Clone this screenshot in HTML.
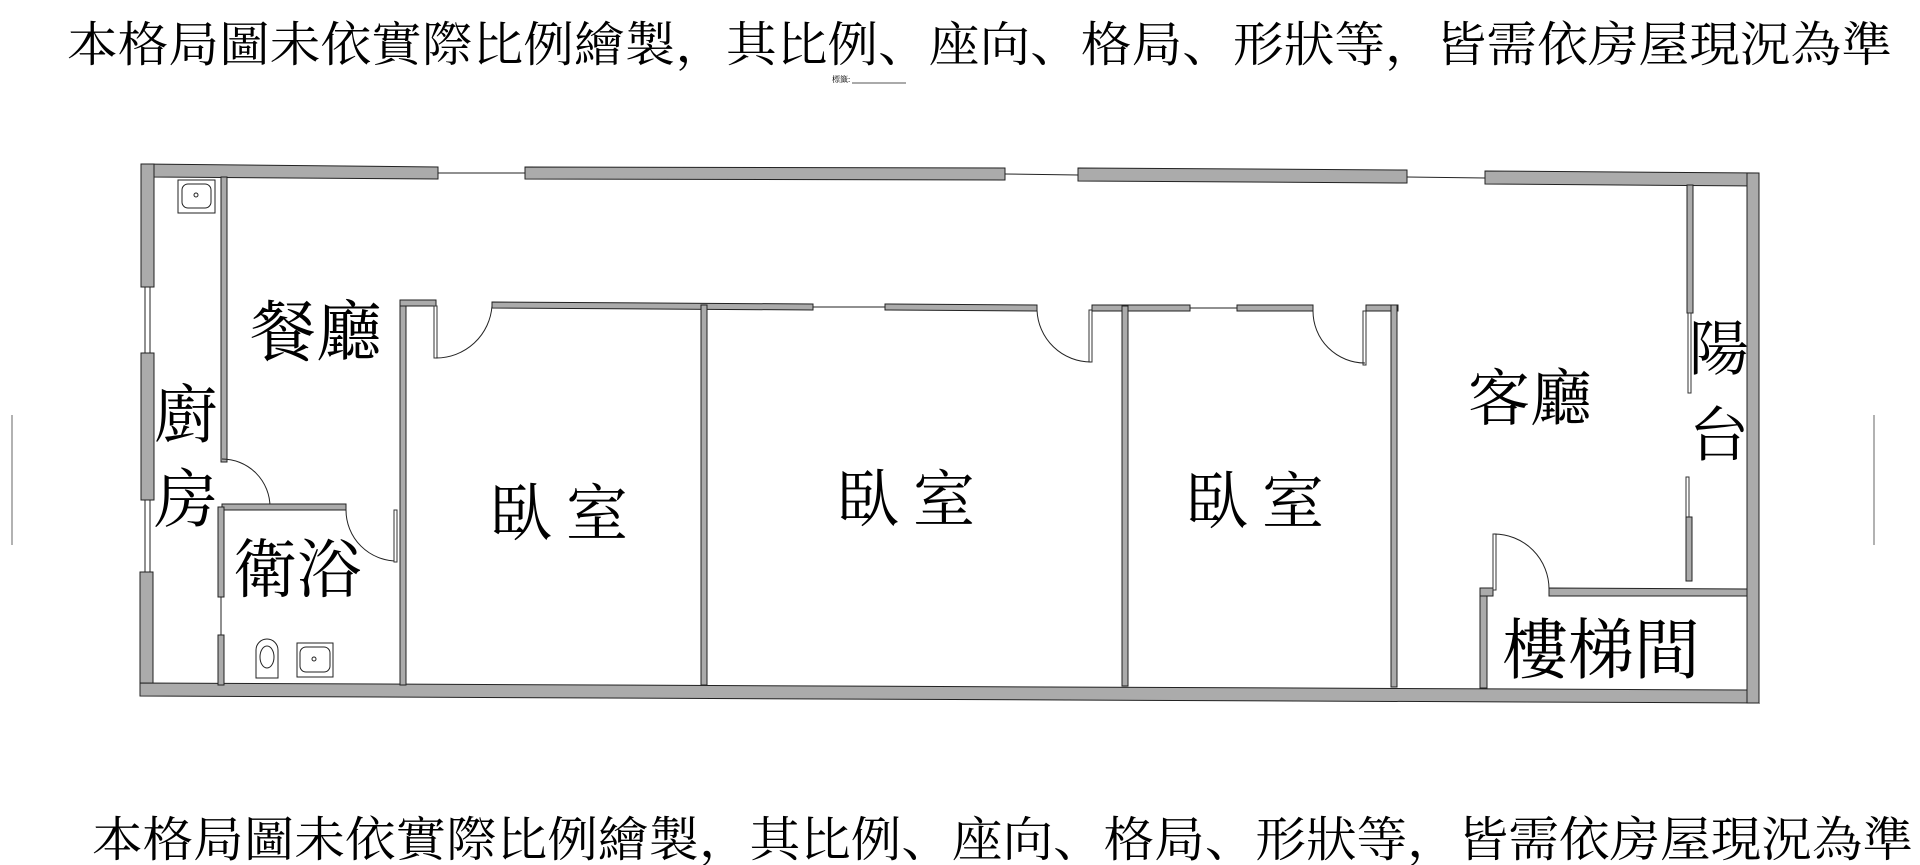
<!DOCTYPE html>
<html><head><meta charset="utf-8"><style>
html,body{margin:0;padding:0;background:#fff;}
svg{display:block;}
text{font-family:"Liberation Serif","Noto Serif CJK SC",serif;fill:#000;}
.w{fill:#ababab;stroke:#222;stroke-width:1;}
.t{fill:#fff;stroke:#333;stroke-width:1;}
.ln{stroke:#222;stroke-width:1;fill:none;}
</style></head><body>
<svg width="1920" height="865" viewBox="0 0 1920 865" xmlns="http://www.w3.org/2000/svg">
<rect width="1920" height="865" fill="#fff"/>
<text x="67" y="61" font-size="48" textLength="1825" lengthAdjust="spacingAndGlyphs">本格局圖未依實際比例繪製，其比例、座向、格局、形狀等，皆需依房屋現況為準</text>
<text x="92" y="856" font-size="48" textLength="1821" lengthAdjust="spacingAndGlyphs">本格局圖未依實際比例繪製，其比例、座向、格局、形狀等，皆需依房屋現況為準</text>
<text x="832" y="82" font-size="8" fill="#666">標籤:</text>
<line x1="852" y1="83" x2="906" y2="83" stroke="#555" stroke-width="1"/>
<line x1="12" y1="415" x2="12" y2="545" stroke="#666" stroke-width="1"/>
<line x1="1874" y1="415" x2="1874" y2="545" stroke="#666" stroke-width="1"/>

<!-- outer top wall segments -->
<polygon class="w" points="142,164 438,167 438,179 154,177"/>
<polygon class="w" points="525,167 1005,168 1005,180 525,179"/>
<polygon class="w" points="1078,168 1407,170 1407,183 1078,181"/>
<polygon class="w" points="1485,171 1759,173 1759,186 1485,184"/>
<line class="ln" x1="438" y1="173" x2="525" y2="173"/>
<line class="ln" x1="1005" y1="174" x2="1078" y2="175"/>
<line class="ln" x1="1407" y1="177" x2="1485" y2="178"/>
<!-- outer left wall -->
<rect class="w" x="141" y="164" width="13" height="123"/>
<rect class="w" x="141" y="353" width="13" height="147"/>
<rect class="w" x="140" y="572" width="13" height="124"/>
<line class="ln" x1="145" y1="287" x2="145" y2="353"/><line class="ln" x1="150" y1="287" x2="150" y2="353"/>
<line class="ln" x1="145" y1="500" x2="145" y2="572"/><line class="ln" x1="150" y1="500" x2="150" y2="572"/>
<!-- bottom wall -->
<polygon class="w" points="140,683 1747,690 1759,703 140,696"/>
<!-- right wall -->
<rect class="w" x="1747" y="173" width="12" height="530"/>

<!-- kitchen/dining wall -->
<rect class="w" x="221" y="177" width="6" height="285"/>
<path class="ln" d="M222,459 A48,48 0 0 1 270,507"/>
<!-- bath top wall -->
<rect class="w" x="222" y="504" width="124" height="6"/>
<path class="ln" d="M346,510 A51,51 0 0 0 397,561"/>
<rect class="t" x="394" y="510" width="3" height="52"/>
<!-- bath left wall -->
<rect class="w" x="218" y="507" width="6" height="90"/>
<rect class="w" x="218" y="635" width="6" height="50"/>
<line class="ln" x1="221" y1="597" x2="221" y2="635"/>
<!-- bedroom block left wall -->
<rect class="w" x="400" y="300" width="6" height="385"/>
<rect class="w" x="400" y="300" width="36" height="6"/>
<!-- door bedroom1 -->
<rect class="t" x="434" y="306" width="3" height="52"/>
<path class="ln" d="M492,306 A56,56 0 0 1 436,358"/>
<!-- inner top wall -->
<polygon class="w" points="492,302 813,304 813,310 492,308"/>
<line class="ln" x1="813" y1="307" x2="885" y2="307"/>
<polygon class="w" points="885,304 1037,305 1037,311 885,310"/>
<rect class="t" x="1089" y="310" width="3" height="52"/>
<path class="ln" d="M1037,310 A54,54 0 0 0 1091,362"/>
<polygon class="w" points="1092,305 1190,305 1190,311 1092,311"/>
<line class="ln" x1="1190" y1="308" x2="1237" y2="308"/>
<polygon class="w" points="1237,305 1313,305 1313,311 1237,311"/>
<rect class="t" x="1363" y="311" width="3" height="54"/>
<path class="ln" d="M1313,311 A52,52 0 0 0 1365,363"/>
<rect class="w" x="1366" y="305" width="32" height="6"/>
<!-- dividers -->
<rect class="w" x="701" y="305" width="6" height="380"/>
<rect class="w" x="1122" y="306" width="6" height="380"/>
<rect class="w" x="1391" y="305" width="6" height="382"/>
<!-- balcony wall -->
<rect class="w" x="1687" y="185" width="6" height="128"/>
<rect class="t" x="1688" y="313" width="3" height="80"/>
<rect class="t" x="1686" y="477" width="3" height="80"/>
<rect class="w" x="1686" y="517" width="6" height="64"/>
<!-- stair room -->
<rect class="w" x="1480" y="588" width="7" height="100"/>
<rect class="w" x="1480" y="588" width="13" height="8"/>
<polygon class="w" points="1549,588 1747,589 1747,596 1549,596"/>
<rect class="t" x="1493" y="534" width="3" height="56"/>
<path class="ln" d="M1494,534 A55,55 0 0 1 1549,589"/>

<!-- fixtures -->
<rect x="178" y="180" width="37" height="33" fill="#fff" stroke="#222"/>
<rect x="182" y="184" width="29" height="24" rx="6" fill="#fff" stroke="#222"/>
<circle cx="196" cy="195" r="2" fill="none" stroke="#222"/>
<rect x="297" y="643" width="36" height="34" fill="#fff" stroke="#222"/>
<rect x="300" y="647" width="30" height="25" rx="6" fill="#fff" stroke="#222"/>
<circle cx="314" cy="659" r="2" fill="none" stroke="#222"/>
<path d="M256,678 L256,650 A11,11 0 0 1 278,650 L278,678 Z" fill="#fff" stroke="#222"/>
<ellipse cx="267" cy="657" rx="7" ry="11" fill="none" stroke="#222"/>

<!-- labels -->
<text x="316" y="355" font-size="66" text-anchor="middle">餐廳</text>
<text x="186" y="437" font-size="64" text-anchor="middle">廚</text>
<text x="186" y="522" font-size="64" text-anchor="middle">房</text>
<text x="297" y="592" font-size="64" text-anchor="middle">衛浴</text>
<text x="566" y="535" font-size="62" text-anchor="middle" letter-spacing="14">臥室</text>
<text x="913" y="521" font-size="62" text-anchor="middle" letter-spacing="14">臥室</text>
<text x="1262" y="523" font-size="62" text-anchor="middle" letter-spacing="14">臥室</text>
<text x="1530" y="420" font-size="62" text-anchor="middle">客廳</text>
<text x="1719" y="370" font-size="60" text-anchor="middle">陽</text>
<text x="1719" y="456" font-size="60" text-anchor="middle">台</text>
<text x="1601" y="673" font-size="66" text-anchor="middle">樓梯間</text>
</svg>
</body></html>
